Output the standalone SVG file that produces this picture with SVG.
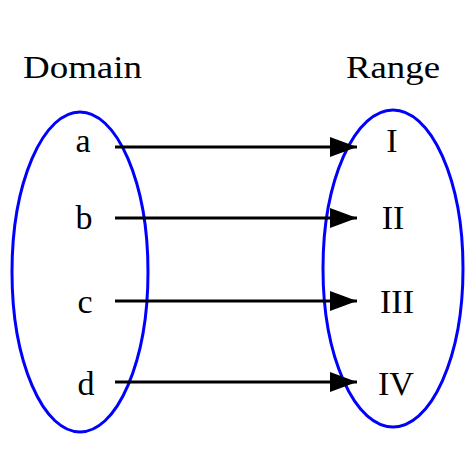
<svg xmlns="http://www.w3.org/2000/svg" width="474" height="474" viewBox="0 0 474 474">
<defs>
<style>
.set{fill:none;stroke:#0000ff;stroke-width:3}
.lbl{font-family:"Liberation Serif","Times New Roman",serif;font-size:34px;fill:#000;text-anchor:middle}
.ttl{font-family:"Liberation Serif","Times New Roman",serif;font-size:32px;fill:#000}
.edge{stroke:#000;stroke-width:3;fill:none;marker-end:url(#ah)}
</style>
<marker id="ah" markerWidth="27" markerHeight="20" refX="27" refY="10" orient="auto" markerUnits="userSpaceOnUse">
<path d="M0,0 L27,10 L0,20 Z" fill="#000"/>
</marker>
</defs>
<rect width="474" height="474" fill="#fff"/>
<g id="domain">
<ellipse class="set" cx="80" cy="272" rx="68" ry="160"/>
<text class="ttl" x="23" y="78" textLength="119" lengthAdjust="spacingAndGlyphs">Domain</text>
</g>
<g id="range">
<ellipse class="set" cx="393" cy="268.5" rx="70" ry="158.5"/>
<text class="ttl" x="346" y="78" textLength="94" lengthAdjust="spacingAndGlyphs">Range</text>
</g>
<g id="node-a"><text class="lbl" x="83" y="152">a</text></g>
<g id="node-b"><text class="lbl" x="84" y="229">b</text></g>
<g id="node-c"><text class="lbl" x="85" y="313">c</text></g>
<g id="node-d"><text class="lbl" x="86" y="395">d</text></g>
<g id="node-I"><text class="lbl" x="392" y="152">I</text></g>
<g id="node-II"><text class="lbl" x="393" y="229">II</text></g>
<g id="node-III"><text class="lbl" x="397" y="313">III</text></g>
<g id="node-IV"><text class="lbl" x="396" y="395">IV</text></g>
<g id="connectors">
<line class="edge" x1="115" y1="147" x2="357" y2="147"/>
<line class="edge" x1="115" y1="218" x2="357" y2="218"/>
<line class="edge" x1="115" y1="301" x2="357" y2="301"/>
<line class="edge" x1="115" y1="382" x2="357" y2="382"/>
</g>
</svg>
